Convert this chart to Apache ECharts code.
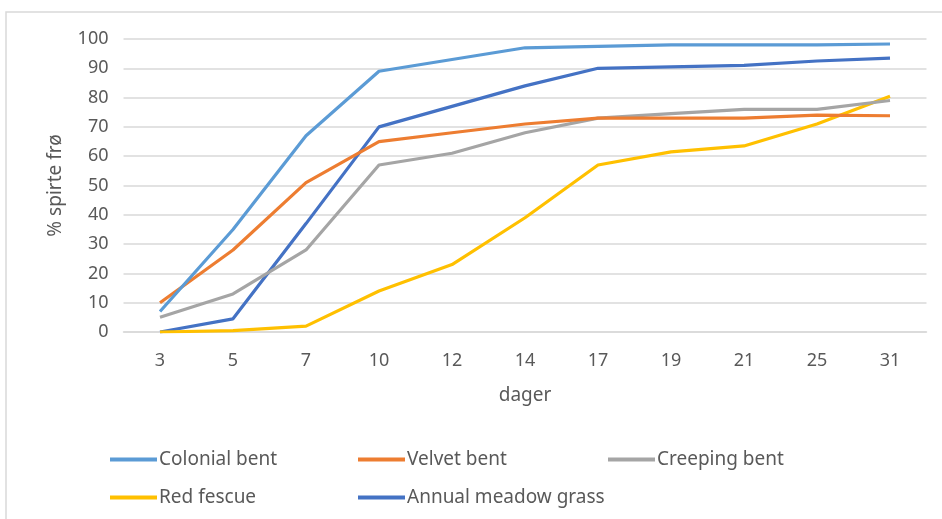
<!DOCTYPE html>
<html>
<head>
<meta charset="utf-8">
<script src="https://cdn.jsdelivr.net/npm/echarts@6/dist/echarts.min.js"></script>
<style>
html,body{margin:0;padding:0;background:#fff;}
#chart{width:942px;height:519px;}
</style>
</head>
<body>
<div id="chart"></div>
<script>
const categories = ['3','5','7','10','12','14','17','19','21','25','31'];
const colonialBent = [7, 35, 67, 89, 93, 97, 97.5, 98, 98, 98, 98.3];
const velvetBent = [10, 28, 51, 65, 68, 71, 73, 73, 73, 74, 73.8];
const creepingBent = [5, 13, 28, 57, 61, 68, 73, 74.5, 76, 76, 79];
const redFescue = [0, 0.5, 2, 14, 23, 39, 57, 61.5, 63.5, 71, 80.5];
const annualMeadowGrass = [0, 4.5, 37, 70, 77, 84, 90, 90.5, 91, 92.5, 93.5];
const yTicks = [0,10,20,30,40,50,60,70,80,90,100];

const names = ['Colonial bent','Velvet bent','Creeping bent','Red fescue','Annual meadow grass'];
const colors = ['#5B9BD5','#ED7D31','#A5A5A5','#FFC000','#4472C4'];
const datas = [colonialBent, velvetBent, creepingBent, redFescue, annualMeadowGrass];

const font = 'Noto Sans';
const chart = echarts.init(document.getElementById('chart'));
const legendPos = [[110,450],[358,450],[608,450],[110,488],[358,488]];

chart.setOption({
  animation: false,
  backgroundColor: '#fff',
  textStyle: {fontFamily: font},
  graphic: [{
    type: 'rect',
    shape: {x: 6, y: 12, width: 960, height: 560},
    style: {fill: 'none', stroke: '#d9d9d9', lineWidth: 1.5},
    silent: true
  }],
  grid: {left: 123.5, right: 15.5, top: 39, bottom: 187, containLabel: false},
  xAxis: {
    type: 'category',
    data: categories,
    boundaryGap: true,
    name: 'dager',
    nameLocation: 'middle',
    nameGap: 54,
    nameTextStyle: {color: '#595959', fontSize: 19, fontFamily: font},
    axisLine: {show: true, lineStyle: {color: '#d9d9d9', width: 1.5}},
    axisTick: {show: false},
    axisLabel: {color: '#595959', fontSize: 18, margin: 20, fontFamily: font}
  },
  yAxis: {
    type: 'value',
    min: 0, max: 100, interval: 10,
    name: '% spirte frø',
    nameLocation: 'middle',
    nameGap: 58,
    nameTextStyle: {color: '#595959', fontSize: 19, fontFamily: font},
    axisLine: {show: false},
    axisTick: {show: false},
    axisLabel: {color: '#595959', fontSize: 18, margin: 15, fontFamily: font,
      formatter: v => yTicks.includes(v) ? String(v) : ''},
    splitLine: {lineStyle: {color: '#d9d9d9', width: 1.5}}
  },
  legend: names.map((n, i) => ({
    data: [n],
    left: legendPos[i][0],
    top: legendPos[i][1],
    icon: 'rect',
    itemWidth: 47,
    itemHeight: 4,
    itemGap: 0,
    padding: 0,
    textStyle: {color: '#595959', fontSize: 19, fontFamily: font, padding: [0,0,0,-3]}
  })),
  series: names.map((n, i) => ({
    name: n,
    type: 'line',
    data: datas[i],
    symbol: 'none',
    smooth: false,
    lineStyle: {color: colors[i], width: 3.2},
    itemStyle: {color: colors[i]},
    z: 10 - i
  }))
});
</script>
</body>
</html>
